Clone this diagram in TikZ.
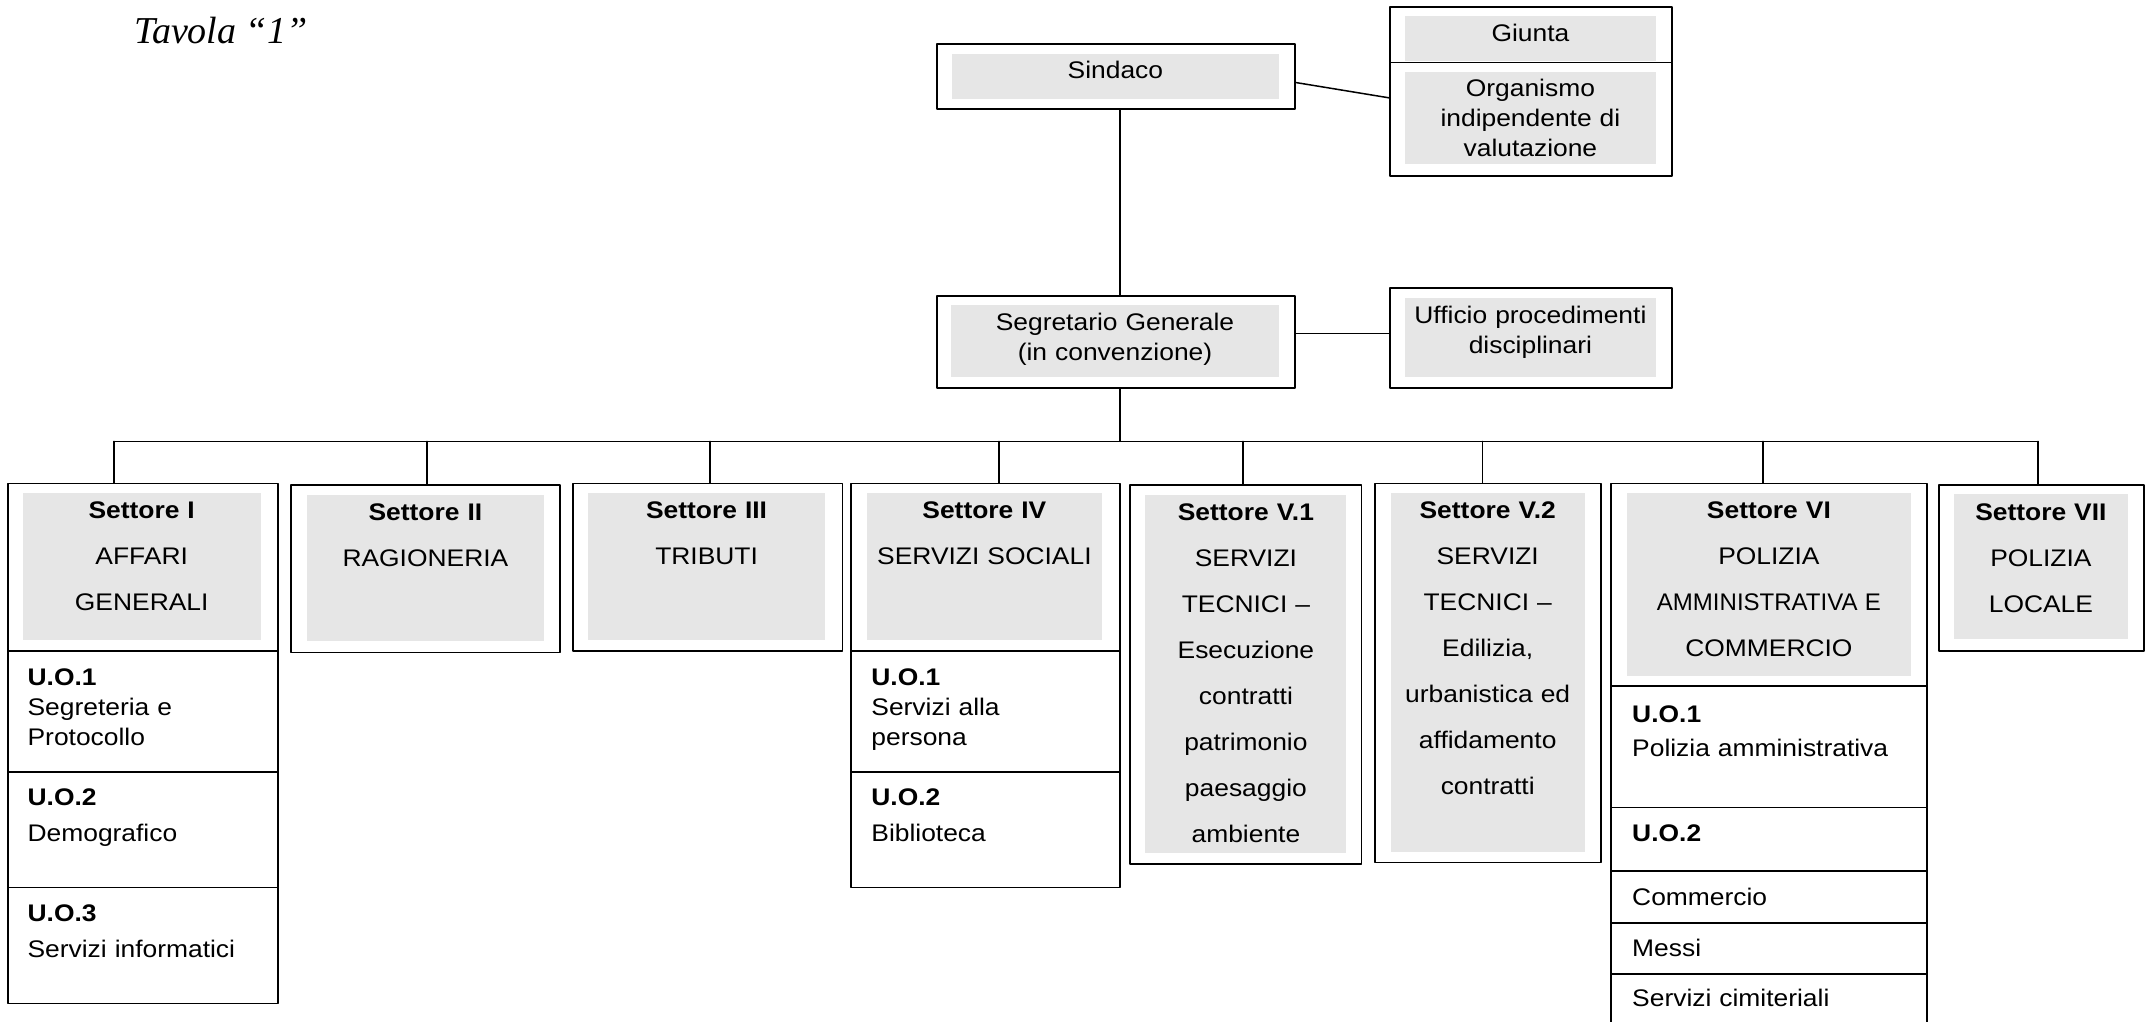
\documentclass[tikz,border=0pt]{standalone}
\usepackage{fontspec}
\usepackage{graphicx}
\setmainfont{Liberation Sans}[FakeStretch=1.1]
\newfontfamily\tavfont{Liberation Serif}
\definecolor{grigio}{RGB}{230,230,230}
\tikzset{
	cella/.style={draw,line width=0.9pt,inner sep=0pt,anchor=north west},
	filo/.style={line width=0.75pt},
	intesta/.style={anchor=base,inner sep=0pt,align=center,font=\fontsize{12}{23}\selectfont},
	nome/.style={anchor=base,inner sep=0pt,align=center,font=\fontsize{12}{15}\selectfont},
	voce/.style={anchor=base west,inner sep=0pt,align=left,text width=125pt,font=\fontsize{12}{15}\selectfont}
}

\begin{document}
\begin{tikzpicture}[line cap=round,line join=round,x=1pt,y=-1pt]
		\useasboundingbox (0,0) rectangle (1076,511);
		\clip (0,0) rectangle (1076,511);
		\node[anchor=base west,inner sep=0pt,font=\tavfont\itshape\fontsize{19}{21}\selectfont] (tavola) at (67,22) {Tavola “1”};
		\fill[grigio] (476,27) rectangle (639.5,49.5);
		\fill[grigio] (702.5,8) rectangle (828,30.5);
		\fill[grigio] (702.5,36.2) rectangle (828,82.2);
		\fill[grigio] (475.5,152.5) rectangle (639.5,188.4);
		\fill[grigio] (702.5,148.9) rectangle (828,188.4);
		\fill[grigio] (11.4,246.5) rectangle (130.3,320);
		\fill[grigio] (153.4,247.5) rectangle (272,320.6);
		\fill[grigio] (294,246.5) rectangle (412.6,320);
		\fill[grigio] (433.4,246.5) rectangle (551,320);
		\fill[grigio] (572.7,247.5) rectangle (673.2,426.4);
		\fill[grigio] (695.3,246.5) rectangle (792.4,425.8);
		\fill[grigio] (813.3,246.5) rectangle (955.6,337.9);
		\fill[grigio] (977,247.1) rectangle (1063.9,319.7);
		\node[cella,minimum width=179.3pt,minimum height=32.5pt] (sindaco) at (467.9,21.7) {};
		\node[cella,minimum width=141.3pt,minimum height=27.8pt] (giunta) at (694.4,3) {};
		\node[cella,minimum width=141.3pt,minimum height=56.7pt] (oiv) at (694.4,30.8) {};
		\node[cella,minimum width=179.3pt,minimum height=45.9pt] (segretario) at (467.9,147.5) {};
		\node[cella,minimum width=141.3pt,minimum height=49.7pt] (upd) at (694.4,143.7) {};
		\node[nome] (t-sindaco) at (557.7,39.5) {Sindaco};
		\node[nome] (t-giunta) at (765.2,20.8) {Giunta};
		\node[nome,text width=125pt] (t-oiv) at (765.2,48.3) {Organismo\\indipendente di\\valutazione};
		\node[nome,text width=160pt] (t-segretario) at (557.5,165) {Segretario Generale\\(in convenzione)};
		\node[nome,text width=125pt] (t-upd) at (765.2,161.7) {Ufficio procedimenti\\disciplinari};
		\draw[filo] ([yshift=-2.9pt]sindaco.east) -- ([yshift=10.7pt]oiv.west);
		\draw[filo] ([xshift=2pt]sindaco.south) -- ([xshift=2pt]segretario.north);
		\draw[filo] ([yshift=4.2pt]segretario.east) coordinate (q) -- (q -| upd.west);
		\node[cella,minimum width=134.9pt,minimum height=83.7pt] (s1) at (3.6,241.3) {};
		\node[cella,minimum width=134.9pt,minimum height=60.6pt] (s1uo1) at (3.6,325) {};
		\node[cella,minimum width=134.9pt,minimum height=57.7pt] (s1uo2) at (3.6,385.6) {};
		\node[cella,minimum width=134.9pt,minimum height=58pt] (s1uo3) at (3.6,443.3) {};
		\node[cella,minimum width=134.4pt,minimum height=83.7pt] (s2) at (145.2,242.1) {};
		\node[cella,minimum width=134.9pt,minimum height=83.7pt] (s3) at (285.9,241.3) {};
		\node[cella,minimum width=134.4pt,minimum height=83.7pt] (s4) at (425,241.3) {};
		\node[cella,minimum width=134.4pt,minimum height=60.6pt] (s4uo1) at (425,325) {};
		\node[cella,minimum width=134.4pt,minimum height=57.7pt] (s4uo2) at (425,385.6) {};
		\node[cella,minimum width=115.9pt,minimum height=189.5pt] (s51) at (564.4,242.1) {};
		\node[cella,minimum width=113pt,minimum height=189.5pt] (s52) at (687,241.3) {};
		\node[cella,minimum width=158.1pt,minimum height=101.4pt] (s6) at (805,241.3) {};
		\node[cella,minimum width=158.1pt,minimum height=60.6pt] (s6uo1) at (805,342.7) {};
		\node[cella,minimum width=158.1pt,minimum height=31.7pt] (s6uo2) at (805,403.3) {};
		\node[cella,minimum width=158.1pt,minimum height=26pt] (s6com) at (805,435) {};
		\node[cella,minimum width=158.1pt,minimum height=25.4pt] (s6mes) at (805,461) {};
		\node[cella,minimum width=158.1pt,minimum height=40pt] (s6cim) at (805,486.4) {};
		\node[cella,minimum width=102.8pt,minimum height=82.9pt] (s7) at (968.9,242.1) {};
		\node[intesta,text width=118pt] (t-s1) at (70.85,259) {\textbf{Settore I}\\AFFARI\\GENERALI};
		\node[intesta,text width=118pt] (t-s2) at (212.7,260) {\textbf{Settore II}\\RAGIONERIA};
		\node[intesta,text width=118pt] (t-s3) at (353.3,259) {\textbf{Settore III}\\TRIBUTI};
		\node[intesta,text width=117pt] (t-s4) at (492.2,259) {\textbf{Settore IV}\\SERVIZI SOCIALI};
		\node[intesta,text width=100pt] (t-s51) at (622.95,260) {\textbf{Settore V.1}\\SERVIZI\\TECNICI –\\Esecuzione\\contratti\\patrimonio\\paesaggio\\ambiente};
		\node[intesta,text width=97pt] (t-s52) at (743.85,259) {\textbf{Settore V.2}\\SERVIZI\\TECNICI –\\Edilizia,\\urbanistica ed\\affidamento\\contratti};
		\node[intesta,text width=142pt] (t-s6) at (884.45,259) {\textbf{Settore VI}\\POLIZIA\\\scalebox{0.91}[1]{AMMINISTRATIVA E}\\COMMERCIO};
		\node[intesta,text width=87pt] (t-s7) at (1020.45,260) {\textbf{Settore VII}\\POLIZIA\\LOCALE};
		\node[voce] (t-s1uo1) at (13.6,342.7) {\textbf{U.O.1}\\Segreteria e\\Protocollo};
		\node[voce] (t-s1uo2) at (13.6,402.9) {\textbf{U.O.2}\\[3pt]Demografico};
		\node[voce] (t-s1uo3) at (13.6,460.6) {\textbf{U.O.3}\\[3pt]Servizi informatici};
		\node[voce] (t-s4uo1) at (435.5,342.7) {\textbf{U.O.1}\\Servizi alla\\persona};
		\node[voce] (t-s4uo2) at (435.5,402.9) {\textbf{U.O.2}\\[3pt]Biblioteca};
		\node[voce,text width=140pt] (t-s6uo1) at (815.9,361) {\textbf{U.O.1}\\[2.3pt]Polizia amministrativa};
		\node[voce] (t-s6uo2) at (815.9,420.6) {\textbf{U.O.2}};
		\node[voce] (t-s6com) at (815.9,452.7) {Commercio};
		\node[voce] (t-s6mes) at (815.9,478.3) {Messi};
		\node[voce] (t-s6cim) at (815.9,503.3) {Servizi cimiteriali};
		\draw[filo] ([xshift=2pt]segretario.south) coordinate (t) -- (t |- 0,220.7);
		\coordinate (busW) at (57,220.7);
		\coordinate (busE) at (1019,220.7);
		\draw[filo] (busW) -- (busE);
		\foreach \s/\x in {s1/57,s2/213.6,s3/355,s4/499.5,s51/621.6,s52/741.3,s6/881.5,s7/1019}
			\draw[filo] (\x,0 |- busW) -- (\x,0 |- \s.north);
	\end{tikzpicture}
\end{document}
